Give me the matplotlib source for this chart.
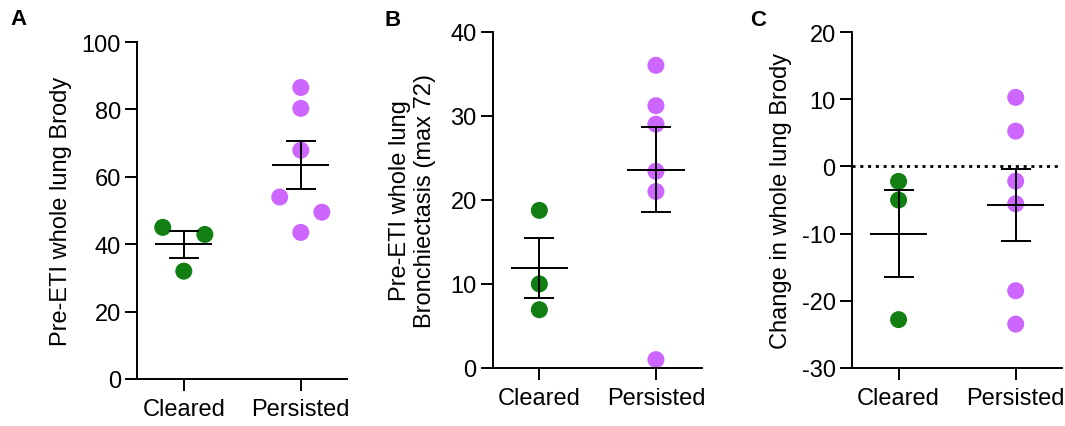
import numpy as np
import matplotlib
matplotlib.use("Agg")
import matplotlib.pyplot as plt

plt.rcParams['font.family'] = ['Liberation Sans', 'DejaVu Sans']
plt.rcParams['axes.unicode_minus'] = False

groups = ["Cleared", "Persisted"]
green = "#117f11"
purple = "#cc66ff"

# Pre-ETI whole lung Brody score
brody_cleared = [45.0, 42.9, 32.0]
brody_persisted = [86.5, 80.3, 67.9, 54.0, 49.5, 43.5]

# Pre-ETI whole lung bronchiectasis subscore (max 72)
bronch_cleared = [18.75, 10.0, 6.93]
bronch_persisted = [36.0, 31.2, 29.0, 23.4, 21.0, 1.0]

# Change in whole lung Brody score
change_cleared = [-2.23, -5.0, -22.8]
change_persisted = [10.27, 5.25, -2.19, -5.56, -18.5, -23.47]

# Horizontal spread of overlapping dots (category units)
spread_a = ([-0.18, 0.18, 0.0], [0, 0, 0, -0.18, 0.18, 0])
spread_b = ([0, 0, 0], [0, 0, 0, 0, 0, 0])
spread_c = ([0, 0, 0], [0, 0, 0, 0, 0, 0])

FS = 17
LW = 1.4

fig = plt.figure(figsize=(10.65, 4.27), dpi=100)
W, H = 1065, 427


def add_panel(left, top, right, bottom):
    return fig.add_axes([left / W, 1 - bottom / H, (right - left) / W, (bottom - top) / H])


def draw(ax, cleared, persisted, spread, ylim, yticks, ylabel, label_x, letter, letter_xy):
    for i, (vals, col, off) in enumerate(zip([cleared, persisted], [green, purple], spread)):
        vals = np.asarray(vals, dtype=float)
        xs = i + np.asarray(off)
        ax.scatter(xs, vals, s=150, color=col, edgecolors='none', zorder=2, clip_on=False)
        m = vals.mean()
        sem = vals.std(ddof=1) / np.sqrt(len(vals))
        ax.hlines(m, i - 0.245, i + 0.245, color='black', lw=LW, zorder=3)
        ax.errorbar([i], [m], yerr=[sem], fmt='none', ecolor='black', elinewidth=LW,
                    capsize=10.8, capthick=LW, zorder=3)
    ax.set_xlim(-0.4, 1.395)
    ax.set_ylim(*ylim)
    ax.set_yticks(yticks)
    ax.set_xticks([0, 1])
    ax.set_xticklabels(groups)
    for s in ('top', 'right'):
        ax.spines[s].set_visible(False)
    for s in ('left', 'bottom'):
        ax.spines[s].set_linewidth(LW)
    ax.tick_params(axis='both', labelsize=FS, width=LW, length=8.5, pad=3, colors='black')
    ax.tick_params(axis='x', pad=5)
    ax.set_ylabel(ylabel, fontsize=FS, linespacing=1.2)
    ax.yaxis.set_label_coords(label_x, 0.5)
    fig.text(letter_xy[0] / W, 1 - letter_xy[1] / H, letter, fontsize=16,
             fontweight='bold', ha='left', va='top')


ax_a = add_panel(137, 43, 347, 380)
draw(ax_a, brody_cleared, brody_persisted, spread_a, (0, 100), [0, 20, 40, 60, 80, 100],
     "Pre-ETI whole lung Brody", -0.31, "A", (10, 9))

ax_b = add_panel(492.7, 32.7, 702, 369)
draw(ax_b, bronch_cleared, bronch_persisted, spread_b, (0, 40), [0, 10, 20, 30, 40],
     "Pre-ETI whole lung\nBronchiectasis (max 72)", -0.27, "B", (385, 10))

ax_c = add_panel(851.7, 33, 1062, 369)
draw(ax_c, change_cleared, change_persisted, spread_c, (-30, 20), [-30, -20, -10, 0, 10, 20],
     "Change in whole lung Brody", -0.285, "C", (750, 10))
ax_c.axhline(0, color='black', lw=2.0, linestyle=(0, (1.1, 1.7)), zorder=1)

fig.savefig("out.png", dpi=100)
